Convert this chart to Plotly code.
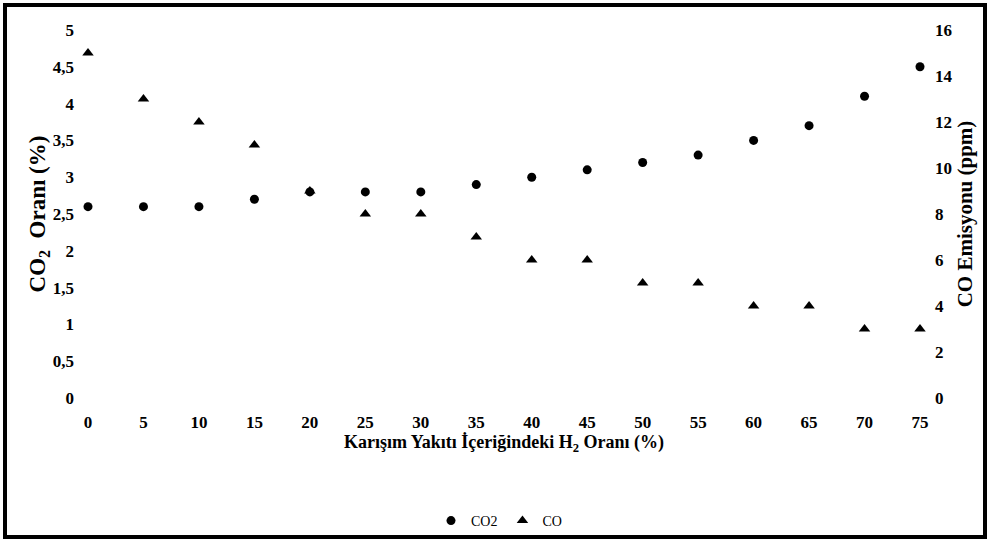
import plotly.graph_objects as go

h2_ratio = [0, 5, 10, 15, 20, 25, 30, 35, 40, 45, 50, 55, 60, 65, 70, 75]
co2_values = [2.6, 2.6, 2.6, 2.7, 2.8, 2.8, 2.8, 2.9, 3.0, 3.1, 3.2, 3.3, 3.5, 3.7, 4.1, 4.5]
co_values = [15, 13, 12, 11, 9, 8, 8, 7, 6, 6, 5, 5, 4, 4, 3, 3]
left_ticks = [0, 0.5, 1, 1.5, 2, 2.5, 3, 3.5, 4, 4.5, 5]
right_ticks = [0, 2, 4, 6, 8, 10, 12, 14, 16]

W, H = 989, 542
L, R, T, B = 80, 61, 30, 144
pw, ph = W - L - R, H - T - B

def px(x):
    return (x - L) / pw

def py(y):
    return (H - B - y) / ph

FONT = "Liberation Serif"

fig = go.Figure()
fig.add_trace(go.Scatter(
    x=h2_ratio, y=co2_values, name="CO2", mode="markers",
    marker=dict(symbol="circle", size=9, color="black"),
    yaxis="y"))
fig.add_trace(go.Scatter(
    x=h2_ratio, y=co_values, name="CO", mode="markers",
    marker=dict(symbol="triangle-up", size=10, color="black"),
    yaxis="y2"))

# map 0 -> px 88, 75 -> px 920
scale = (920 - 88) / 75
xr = [(L - 88) / scale, (L + pw - 88) / scale]

fig.update_layout(
    width=W, height=H,
    margin=dict(l=L, r=R, t=T, b=B, autoexpand=False),
    paper_bgcolor="white", plot_bgcolor="white",
    separators=",.",
    font=dict(family=FONT, color="black"),
    showlegend=True,
    legend=dict(orientation="h", x=px(499), xanchor="center", y=py(521), yanchor="middle",
                bgcolor="rgba(0,0,0,0)",
                font=dict(family=FONT, size=14, color="black"),
                itemwidth=30, tracegroupgap=0),
    xaxis=dict(range=xr, tickvals=h2_ratio, ticktext=[str(v) for v in h2_ratio],
               showgrid=False, zeroline=False, showline=False,
               ticks="", ticklabelstandoff=12,
               tickfont=dict(family=FONT, size=17, color="black", weight="bold"),
               title=dict(text="<b>Karışım Yakıtı İçeriğindeki H<sub>2</sub> Oranı (%)</b>",
                          font=dict(family=FONT, size=18, color="black"), standoff=2)),
    yaxis=dict(range=[0, 5], tickvals=left_ticks, showgrid=False, zeroline=False,
               showline=False, ticks="", ticklabelstandoff=5,
               tickfont=dict(family=FONT, size=17, color="black", weight="bold"),
               title=dict(text="<b>CO<sub>2</sub>  Oranı (%)</b>",
                          font=dict(family=FONT, size=23, color="black"), standoff=0)),
    yaxis2=dict(range=[0, 16], tickvals=right_ticks, overlaying="y", side="right",
                showgrid=False, zeroline=False, showline=False, ticks="",
                ticklabelstandoff=6,
                tickfont=dict(family=FONT, size=17, color="black", weight="bold"),
                title=dict(text="<b>CO Emisyonu (ppm)</b>",
                           font=dict(family=FONT, size=21, color="black"), standoff=5)),
    shapes=[dict(type="rect", xref="paper", yref="paper",
                 x0=px(5), x1=px(985), y0=py(537), y1=py(5),
                 line=dict(color="black", width=4), fillcolor="rgba(0,0,0,0)", layer="above")],
)

fig.write_html("out.html", config={"displayModeBar": False},
               post_script="document.body.style.margin='0';window.dispatchEvent(new Event('resize'));")
